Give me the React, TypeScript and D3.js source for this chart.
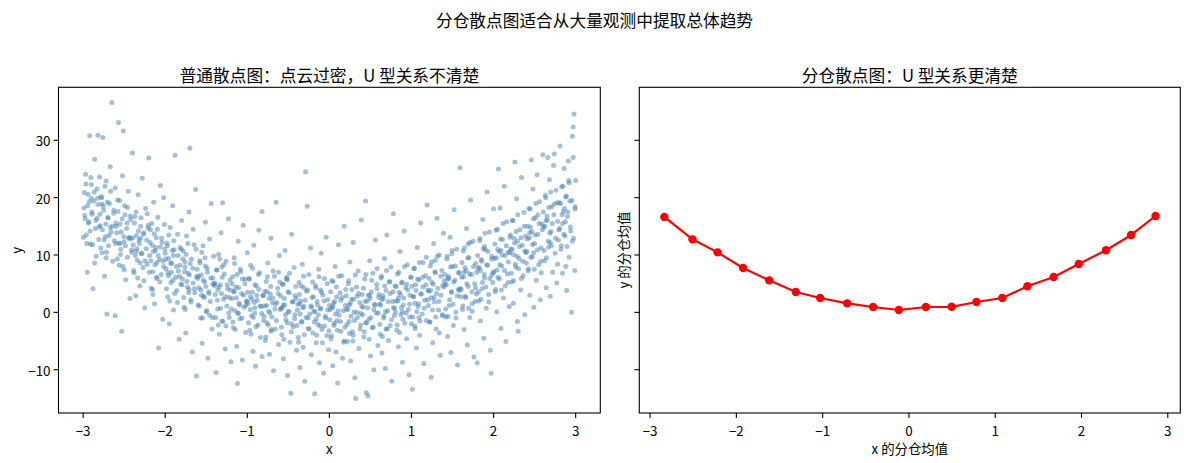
import React from "react";
import * as d3 from "d3";

const suptitle = "分仓散点图适合从大量观测中提取总体趋势";
const leftTitle = "普通散点图：点云过密，U 型关系不清楚";
const rightTitle = "分仓散点图：U 型关系更清楚";

const xTicks = [-3, -2, -1, 0, 1, 2, 3];
const yTicks = [-10, 0, 10, 20, 30];

// bin means (right panel)
const binX = [-2.835, -2.509, -2.218, -1.923, -1.619, -1.311, -1.029, -0.716, -0.416, -0.117,
  0.196, 0.495, 0.782, 1.082, 1.373, 1.677, 1.968, 2.284, 2.575, 2.858];
const binY = [16.63, 12.73, 10.46, 7.73, 5.58, 3.55, 2.5, 1.57, 0.93, 0.41,
  0.93, 0.97, 1.8, 2.5, 4.54, 6.16, 8.43, 10.82, 13.49, 16.8];

const cloudLeft: [number, number][] = [
  [-2.99,18.2],[-2.97,24.1],[-2.96,13.5],[-2.95,7.0],[-2.94,20.6],[-2.93,15.8],[-2.92,30.8],[-2.91,11.9],[-2.9,22.3],[-2.89,17.1],[-2.88,4.1],[-2.87,19.4],[-2.86,26.7],[-2.85,14.6],[-2.84,9.8],[-2.83,21.5],[-2.83,16.4],[-2.82,30.9],[-2.81,12.7],[-2.8,23.6],[-2.98,16.9],[-2.9,19.9],[-2.86,8.6],[-2.82,18.8],
  [-2.79,15.1],[-2.78,20.2],[-2.77,10.4],[-2.76,30.5],[-2.75,17.8],[-2.74,6.3],[-2.73,13.2],[-2.72,22.9],[-2.71,-0.3],[-2.7,16.5],[-2.69,11.6],[-2.68,19.0],[-2.67,25.4],[-2.66,14.0],[-2.65,36.6],[-2.64,8.9],[-2.63,17.3],[-2.62,12.5],[-2.61,-0.6],[-2.61,21.7],[-2.6,15.6],[-2.77,18.9],[-2.72,9.5],[-2.67,14.8],
  [-2.59,13.9],[-2.58,19.6],[-2.57,33.1],[-2.56,8.2],[-2.55,15.4],[-2.54,11.0],[-2.53,-3.3],[-2.52,23.8],[-2.51,31.6],[-2.5,12.3],[-2.49,17.0],[-2.48,5.7],[-2.47,14.6],[-2.46,9.6],[-2.45,21.1],[-2.44,13.1],[-2.43,2.4],[-2.42,16.2],[-2.41,10.5],[-2.4,27.8],[-2.55,12.0],[-2.5,7.4],[-2.46,18.3],[-2.42,12.8],
  [-2.39,11.8],[-2.38,6.9],[-2.37,16.7],[-2.36,2.9],[-2.35,13.4],[-2.34,9.1],[-2.33,20.5],[-2.32,12.6],[-2.31,4.6],[-2.3,15.0],[-2.29,10.2],[-2.28,23.4],[-2.27,7.8],[-2.26,13.9],[-2.25,0.8],[-2.24,18.1],[-2.23,11.1],[-2.22,8.4],[-2.21,14.7],[-2.2,26.9],[-2.35,10.6],[-2.3,12.9],[-2.26,5.5],[-2.22,17.2],
  [-2.19,9.9],[-2.18,14.4],[-2.17,4.2],[-2.16,11.7],[-2.15,7.1],[-2.14,19.2],[-2.13,1.5],[-2.12,10.8],[-2.11,13.0],[-2.1,5.9],[-2.09,16.6],[-2.08,-6.2],[-2.07,9.2],[-2.06,22.1],[-2.05,6.6],[-2.04,12.2],[-2.03,-1.2],[-2.02,8.0],[-2.01,15.3],[-2.0,10.3],[-2.15,3.1],[-2.1,8.7],[-2.06,11.4],[-2.02,20.0],
  [-1.99,7.6],[-1.98,12.1],[-1.97,2.7],[-1.96,9.4],[-1.95,-2.0],[-1.94,14.8],[-1.93,5.2],[-1.92,8.5],[-1.91,18.6],[-1.9,0.4],[-1.89,10.9],[-1.88,27.4],[-1.87,6.1],[-1.86,3.8],[-1.85,13.6],[-1.84,7.2],[-1.83,-4.7],[-1.82,11.3],[-1.81,4.9],[-1.8,16.0],[-1.96,6.4],[-1.9,9.9],[-1.85,1.7],[-1.82,8.2],
  [-1.79,5.8],[-1.78,10.7],[-1.77,0.9],[-1.76,7.9],[-1.75,-3.6],[-1.74,13.3],[-1.73,4.4],[-1.72,6.8],[-1.71,17.5],[-1.7,28.6],[-1.69,2.2],[-1.68,9.3],[-1.67,-6.9],[-1.66,5.1],[-1.65,11.8],[-1.64,3.4],[-1.63,21.4],[-1.62,-11.1],[-1.61,7.5],[-1.6,1.3],[-1.76,8.8],[-1.71,4.0],[-1.66,14.5],[-1.62,6.2],
  [-1.59,4.3],[-1.58,9.0],[-1.57,-1.0],[-1.56,6.5],[-1.55,-5.4],[-1.54,11.6],[-1.53,2.8],[-1.52,5.3],[-1.51,15.7],[-1.5,0.1],[-1.49,7.7],[-1.48,-8.0],[-1.47,3.6],[-1.46,12.8],[-1.45,1.9],[-1.44,19.0],[-1.43,-2.9],[-1.42,6.0],[-1.41,9.8],[-1.4,4.7],[-1.56,3.0],[-1.51,8.1],[-1.46,-0.5],[-1.42,4.9],
  [-1.39,3.1],[-1.38,-10.5],[-1.37,7.4],[-1.36,0.6],[-1.35,10.1],[-1.34,-3.8],[-1.33,4.8],[-1.32,13.9],[-1.31,-1.5],[-1.3,19.1],[-1.29,2.3],[-1.28,6.7],[-1.27,-6.4],[-1.26,8.9],[-1.25,1.1],[-1.24,4.1],[-1.23,16.3],[-1.22,-0.9],[-1.21,5.6],[-1.2,-8.6],[-1.36,3.9],[-1.31,7.9],[-1.26,-2.4],[-1.22,2.6],
  [-1.19,2.4],[-1.18,6.2],[-1.17,-2.7],[-1.16,9.5],[-1.15,0.3],[-1.14,4.4],[-1.13,-5.9],[-1.12,-12.4],[-1.11,12.4],[-1.1,1.6],[-1.09,-1.1],[-1.08,7.1],[-1.07,3.3],[-1.06,-8.3],[-1.05,15.2],[-1.04,0.9],[-1.03,5.0],[-1.02,-3.5],[-1.01,2.0],[-1.0,10.4],[-1.16,3.7],[-1.11,-0.2],[-1.06,5.8],[-1.02,1.2],
];

// -1 <= x < 1
const cloudMid: [number, number][] = [
  [-0.99,1.5],[-0.98,5.9],[-0.97,-3.1],[-0.96,8.2],[-0.95,-0.6],[-0.94,3.5],[-0.93,-6.8],[-0.92,11.7],[-0.91,0.8],[-0.9,-9.4],[-0.89,4.6],[-0.88,2.1],[-0.87,-2.2],[-0.86,14.3],[-0.85,6.9],[-0.84,-4.4],[-0.83,1.0],[-0.82,17.6],[-0.81,3.0],[-0.8,-1.4],[-0.96,2.7],[-0.91,-0.1],[-0.86,4.0],[-0.82,-7.7],
  [-0.79,1.1],[-0.78,-4.9],[-0.77,5.4],[-0.76,-1.8],[-0.75,8.6],[-0.74,0.2],[-0.73,-7.3],[-0.72,3.2],[-0.71,12.9],[-0.7,-0.8],[-0.69,2.5],[-0.68,-10.2],[-0.67,6.3],[-0.66,-2.9],[-0.65,19.2],[-0.64,1.7],[-0.63,4.2],[-0.62,-5.6],[-0.61,9.9],[-0.6,0.5],[-0.76,3.6],[-0.71,-3.3],[-0.66,1.4],[-0.62,7.0],
  [-0.59,0.7],[-0.58,-3.9],[-0.57,4.9],[-0.56,-8.1],[-0.55,2.4],[-0.54,10.8],[-0.53,-1.3],[-0.52,6.1],[-0.51,-11.0],[-0.5,0.0],[-0.49,3.4],[-0.48,-5.2],[-0.47,-14.1],[-0.46,13.6],[-0.45,1.8],[-0.44,-2.5],[-0.43,7.8],[-0.42,-0.4],[-0.41,4.5],[-0.4,-6.6],[-0.56,1.3],[-0.51,5.7],[-0.46,-2.0],[-0.42,2.9],
  [-0.39,0.4],[-0.38,-4.4],[-0.37,5.2],[-0.36,-9.6],[-0.35,2.0],[-0.34,-1.7],[-0.33,8.4],[-0.32,-6.1],[-0.31,1.0],[-0.3,-12.0],[-0.29,24.5],[-0.28,3.7],[-0.27,18.5],[-0.26,-2.8],[-0.25,6.6],[-0.24,-0.3],[-0.23,11.2],[-0.22,-7.4],[-0.21,2.6],[-0.2,-3.6],[-0.36,1.5],[-0.31,4.3],[-0.26,-1.0],[-0.22,0.9],
  [-0.19,0.1],[-0.18,-14.2],[-0.17,4.7],[-0.16,-5.3],[-0.15,1.9],[-0.14,-2.1],[-0.13,7.5],[-0.12,-8.8],[-0.11,0.6],[-0.1,10.3],[-0.09,-3.0],[-0.08,3.0],[-0.07,-10.6],[-0.06,5.9],[-0.05,-0.7],[-0.04,13.1],[-0.03,-4.1],[-0.02,2.2],[-0.01,-6.5],[0.0,1.2],[-0.16,-1.2],[-0.11,3.9],[-0.06,-2.4],[-0.02,0.4],
  [0.01,0.5],[0.02,-4.6],[0.03,5.5],[0.04,-9.3],[0.05,1.6],[0.06,-1.9],[0.07,8.0],[0.08,-6.9],[0.09,2.7],[0.1,-12.3],[0.11,11.8],[0.12,-0.5],[0.13,3.4],[0.14,-3.3],[0.15,6.4],[0.16,-8.0],[0.17,0.3],[0.18,15.0],[0.19,-2.6],[0.2,4.0],[0.04,1.0],[0.09,-1.4],[0.14,2.1],[0.18,-5.0],
  [0.21,0.6],[0.22,-5.1],[0.23,5.0],[0.24,-1.6],[0.25,8.8],[0.26,-8.5],[0.27,2.3],[0.28,-3.4],[0.29,12.2],[0.3,0.0],[0.31,-11.4],[0.32,-15.0],[0.33,4.4],[0.34,-0.9],[0.35,7.2],[0.36,-6.3],[0.37,1.7],[0.38,-2.2],[0.39,16.1],[0.4,3.1],[0.24,1.3],[0.29,-4.0],[0.34,2.8],[0.38,-0.2],
  [0.41,0.9],[0.42,-4.3],[0.43,5.8],[0.44,19.4],[0.45,-14.0],[0.46,2.0],[0.47,-14.6],[0.48,-1.2],[0.49,9.0],[0.5,-7.6],[0.51,3.6],[0.52,-2.7],[0.53,6.8],[0.54,-10.0],[0.55,1.4],[0.56,12.6],[0.57,-0.1],[0.58,4.1],[0.59,-5.8],[0.6,2.6],[0.44,-1.8],[0.49,3.0],[0.54,0.5],[0.58,7.6],
  [0.61,1.4],[0.62,-3.8],[0.63,6.0],[0.64,-7.1],[0.65,2.9],[0.66,-1.0],[0.67,9.4],[0.68,-9.8],[0.69,3.8],[0.7,13.5],[0.71,0.3],[0.72,-4.9],[0.73,5.3],[0.74,-2.3],[0.75,7.9],[0.76,-12.0],[0.77,1.9],[0.78,17.2],[0.79,-0.6],[0.8,4.6],[0.64,2.2],[0.69,-2.9],[0.74,3.3],[0.78,0.8],
  [0.81,2.0],[0.82,-3.1],[0.83,6.7],[0.84,-6.0],[0.85,3.5],[0.86,10.6],[0.87,-0.4],[0.88,5.1],[0.89,-8.7],[0.9,1.3],[0.91,14.2],[0.92,-1.9],[0.93,4.3],[0.94,-4.6],[0.95,8.3],[0.96,0.5],[0.97,-10.9],[0.98,3.0],[0.99,6.1],[1.0,-2.0],[0.84,2.5],[0.89,0.1],[0.94,4.9],[0.98,-0.8],
];

// x >= 1
const cloudRight: [number, number][] = [
  [1.01,-13.4],[1.02,2.8],[1.03,7.6],[1.04,-2.4],[1.05,4.8],[1.06,-6.2],[1.07,11.3],[1.08,1.0],[1.09,5.7],[1.1,-4.0],[1.11,15.6],[1.12,3.2],[1.13,-0.3],[1.14,8.7],[1.15,-8.9],[1.16,2.1],[1.17,6.4],[1.18,-1.4],[1.19,18.7],[1.2,3.9],[1.04,1.6],[1.09,-0.9],[1.14,4.4],[1.18,9.6],
  [1.21,3.7],[1.22,-1.7],[1.23,8.1],[1.24,-11.3],[1.25,5.2],[1.26,-5.3],[1.27,12.0],[1.28,1.8],[1.29,6.9],[1.3,-2.9],[1.31,16.4],[1.32,4.2],[1.33,0.4],[1.34,10.0],[1.35,-7.5],[1.36,3.0],[1.37,7.3],[1.38,-0.6],[1.39,13.8],[1.4,5.5],[1.24,2.5],[1.29,9.1],[1.34,-3.6],[1.38,4.7],
  [1.41,4.9],[1.42,-0.8],[1.43,9.3],[1.44,-4.2],[1.45,6.3],[1.46,1.2],[1.47,13.1],[1.48,-7.0],[1.49,3.5],[1.5,8.0],[1.51,-2.3],[1.52,17.9],[1.53,5.6],[1.54,0.0],[1.55,11.0],[1.56,-9.2],[1.57,4.0],[1.58,7.0],[1.59,25.2],[1.6,2.7],[1.44,5.8],[1.49,10.2],[1.54,-1.0],[1.58,3.8],
  [1.61,6.1],[1.62,0.5],[1.63,10.7],[1.64,-3.0],[1.65,7.8],[1.66,2.6],[1.67,14.6],[1.68,-5.7],[1.69,4.5],[1.7,9.5],[1.71,-0.9],[1.72,19.6],[1.73,6.6],[1.74,1.5],[1.75,12.4],[1.76,-7.8],[1.77,5.0],[1.78,8.5],[1.79,3.2],[1.8,-8.8],[1.64,7.0],[1.69,11.9],[1.74,0.2],[1.78,4.3],
  [1.81,7.7],[1.82,2.0],[1.83,12.5],[1.84,-1.5],[1.85,9.2],[1.86,4.1],[1.87,16.2],[1.88,-4.5],[1.89,6.0],[1.9,10.9],[1.91,0.7],[1.92,21.0],[1.93,8.2],[1.94,3.1],[1.95,14.0],[1.96,-6.6],[1.97,-10.6],[1.98,9.8],[1.99,5.2],[2.0,18.0],[1.84,7.3],[1.89,11.5],[1.94,1.8],[1.98,6.5],
  [2.01,9.4],[2.02,3.6],[2.03,14.3],[2.04,0.1],[2.05,11.0],[2.06,25.0],[2.07,5.8],[2.08,18.2],[2.09,-2.8],[2.1,8.1],[2.11,12.7],[2.12,2.5],[2.13,22.0],[2.14,9.9],[2.15,-5.1],[2.16,15.8],[2.17,6.7],[2.18,10.5],[2.19,1.0],[2.2,13.1],[2.04,7.4],[2.09,10.8],[2.14,4.6],[2.18,8.8],
  [2.21,11.0],[2.22,5.3],[2.23,16.0],[2.24,1.6],[2.25,12.9],[2.26,26.2],[2.27,7.9],[2.28,19.8],[2.29,-1.6],[2.3,-3.3],[2.31,9.4],[2.32,14.4],[2.33,3.9],[2.34,23.5],[2.35,11.7],[2.36,6.4],[2.37,17.4],[2.38,-0.4],[2.39,13.3],[2.4,8.6],[2.24,10.1],[2.29,12.4],[2.34,5.9],[2.38,10.7],
  [2.41,12.8],[2.42,7.2],[2.43,18.1],[2.44,3.0],[2.45,14.9],[2.46,26.6],[2.47,9.7],[2.48,21.5],[2.49,0.9],[2.5,12.0],[2.51,16.5],[2.52,5.6],[2.53,24.0],[2.54,13.6],[2.55,8.3],[2.56,19.3],[2.57,2.2],[2.58,11.2],[2.59,15.4],[2.6,27.5],[2.44,13.9],[2.49,10.4],[2.54,17.0],[2.58,6.9],
  [2.61,14.9],[2.62,9.0],[2.63,20.4],[2.64,4.3],[2.65,16.8],[2.66,27.0],[2.67,11.4],[2.68,23.1],[2.69,2.8],[2.7,14.1],[2.71,18.4],[2.72,7.0],[2.73,25.6],[2.74,27.6],[2.75,10.3],[2.76,21.3],[2.77,5.1],[2.78,15.9],[2.79,12.6],[2.8,19.1],[2.64,16.0],[2.69,12.2],[2.74,18.9],[2.78,8.4],
  [2.81,29.0],[2.82,11.0],[2.83,21.9],[2.84,6.8],[2.85,17.6],[2.86,25.1],[2.87,13.3],[2.88,20.1],[2.89,3.8],[2.9,16.7],[2.91,26.4],[2.92,9.6],[2.93,19.4],[2.94,14.2],[2.95,0.0],[2.96,30.7],[2.97,32.3],[2.98,34.6],[2.99,18.0],[3.0,23.0],[2.84,15.5],[2.88,8.0],[2.92,22.6],[2.96,12.4],[2.99,7.3],[2.97,27.0],
];

// the dense core of the cloud, x < 0
const coreLeft: [number, number][] = [
  [-2.995,13.1],[-2.985,20.9],[-2.975,16.3],[-2.965,22.4],[-2.955,12.0],[-2.945,18.6],[-2.935,15.6],[-2.925,19.3],[-2.915,14.2],[-2.905,23.5],[-2.895,17.5],[-2.885,11.8],[-2.865,21.0],[-2.845,16.0],[-2.825,19.9],[-2.805,14.9],
  [-2.795,17.1],[-2.785,11.2],[-2.775,20.0],[-2.765,14.4],[-2.755,18.5],[-2.745,12.6],[-2.735,22.0],[-2.725,15.4],[-2.715,10.5],[-2.705,19.2],[-2.695,16.5],[-2.685,13.4],[-2.665,21.1],[-2.645,15.0],[-2.625,17.8],[-2.605,12.0],
  [-2.595,15.0],[-2.585,9.3],[-2.575,17.6],[-2.565,12.1],[-2.555,19.5],[-2.545,10.1],[-2.535,14.0],[-2.525,16.3],[-2.515,8.0],[-2.505,13.2],[-2.495,18.6],[-2.485,11.6],[-2.465,15.6],[-2.445,12.9],[-2.425,16.8],[-2.405,10.9],
  [-2.395,13.0],[-2.385,7.3],[-2.375,15.6],[-2.365,9.9],[-2.355,17.5],[-2.345,11.1],[-2.335,6.0],[-2.325,14.2],[-2.315,12.0],[-2.305,8.6],[-2.295,16.5],[-2.285,10.3],[-2.265,13.6],[-2.245,9.0],[-2.225,12.6],[-2.205,15.2],
  [-2.195,7.0],[-2.185,12.2],[-2.175,9.0],[-2.165,15.5],[-2.155,4.0],[-2.145,10.6],[-2.135,13.7],[-2.125,8.3],[-2.115,11.3],[-2.105,6.1],[-2.095,14.5],[-2.085,9.9],[-2.065,5.3],[-2.045,12.9],[-2.025,8.9],[-2.005,11.0],
  [-1.995,9.3],[-1.985,4.1],[-1.975,11.6],[-1.965,6.9],[-1.955,13.5],[-1.945,2.0],[-1.935,8.6],[-1.925,7.0],[-1.915,10.8],[-1.905,5.6],[-1.895,12.5],[-1.885,3.3],[-1.865,8.0],[-1.845,9.9],[-1.825,6.3],[-1.805,11.0],
  [-1.795,4.8],[-1.785,9.3],[-1.775,2.6],[-1.765,7.1],[-1.755,0.5],[-1.745,10.1],[-1.735,5.4],[-1.725,12.0],[-1.715,3.4],[-1.705,6.5],[-1.695,8.5],[-1.685,1.8],[-1.665,7.7],[-1.645,4.1],[-1.625,11.0],[-1.605,5.9],
  [-1.595,6.3],[-1.585,1.1],[-1.575,8.6],[-1.565,3.9],[-1.555,10.5],[-1.545,-1.0],[-1.535,5.6],[-1.525,2.6],[-1.515,9.5],[-1.505,4.5],[-1.495,0.3],[-1.485,7.0],[-1.465,3.3],[-1.445,6.0],[-1.425,-0.9],[-1.405,5.0],
  [-1.395,5.1],[-1.385,-0.9],[-1.375,7.4],[-1.365,2.1],[-1.355,-2.2],[-1.345,4.4],[-1.335,9.3],[-1.325,0.7],[-1.315,3.3],[-1.305,6.1],[-1.295,-1.6],[-1.285,8.3],[-1.265,2.7],[-1.245,4.8],[-1.225,-0.1],[-1.205,3.9],
  [-1.195,0.6],[-1.185,5.0],[-1.175,-1.7],[-1.165,3.6],[-1.155,8.5],[-1.145,-3.0],[-1.135,2.5],[-1.125,6.6],[-1.115,-0.1],[-1.105,4.3],[-1.095,1.3],[-1.085,7.5],[-1.065,-1.0],[-1.045,3.0],[-1.025,5.8],[-1.005,1.9],
  [-0.995,3.5],[-0.985,-1.8],[-0.975,5.8],[-0.965,0.5],[-0.955,-3.8],[-0.945,2.3],[-0.935,7.7],[-0.925,-0.9],[-0.915,1.7],[-0.905,4.8],[-0.895,-2.5],[-0.885,3.0],[-0.865,6.6],[-0.845,1.1],[-0.825,-0.2],[-0.805,2.9],
  [-0.795,-0.7],[-0.785,3.7],[-0.775,-4.3],[-0.765,1.2],[-0.755,6.2],[-0.745,-2.2],[-0.735,2.4],[-0.725,-0.1],[-0.715,4.5],[-0.705,-3.0],[-0.695,1.7],[-0.685,7.2],[-0.665,0.6],[-0.645,-1.4],[-0.625,3.3],[-0.605,5.3],
  [-0.595,2.9],[-0.585,-2.6],[-0.575,0.8],[-0.565,4.9],[-0.555,-4.7],[-0.545,1.3],[-0.535,-0.4],[-0.525,5.8],[-0.515,-1.8],[-0.505,3.6],[-0.495,0.2],[-0.485,6.8],[-0.465,-3.4],[-0.445,1.9],[-0.425,-1.1],[-0.405,2.4],
  [-0.395,-2.3],[-0.385,1.4],[-0.375,-5.2],[-0.365,3.1],[-0.355,-0.3],[-0.345,4.6],[-0.335,-1.6],[-0.325,0.8],[-0.315,6.3],[-0.305,-3.9],[-0.295,2.1],[-0.285,-0.9],[-0.265,3.9],[-0.245,-2.9],[-0.225,1.1],[-0.205,5.3],
  [-0.195,2.7],[-0.185,-1.7],[-0.175,0.2],[-0.165,4.3],[-0.155,-4.0],[-0.145,1.3],[-0.135,-0.4],[-0.125,6.2],[-0.115,-2.4],[-0.105,0.7],[-0.095,3.5],[-0.085,-5.3],[-0.065,2.0],[-0.045,-1.0],[-0.025,5.0],[-0.005,-3.2],
];

// the dense core of the cloud, x >= 0
const coreRight: [number, number][] = [
  [0.005,-1.3],[0.015,3.6],[0.025,-4.1],[0.035,0.8],[0.045,5.4],[0.055,-2.3],[0.065,1.9],[0.075,-0.3],[0.085,4.4],[0.095,-3.1],[0.105,0.3],[0.115,6.3],[0.135,-1.6],[0.155,2.6],[0.175,-5.2],[0.195,1.2],
  [0.205,2.9],[0.215,-2.1],[0.225,0.5],[0.235,5.5],[0.245,-3.7],[0.255,1.6],[0.265,-0.7],[0.275,4.0],[0.285,-5.0],[0.295,2.3],[0.305,-1.4],[0.315,6.5],[0.335,0.0],[0.355,3.3],[0.375,-2.9],[0.395,1.0],
  [0.405,-0.4],[0.415,4.2],[0.425,-3.4],[0.435,1.9],[0.445,6.6],[0.455,-1.8],[0.465,0.8],[0.475,3.0],[0.485,-4.7],[0.495,2.4],[0.505,-0.9],[0.515,5.6],[0.535,-2.6],[0.555,1.3],[0.575,4.9],[0.595,-0.1],
  [0.605,3.1],[0.615,-2.1],[0.625,1.3],[0.635,6.3],[0.645,-4.2],[0.655,2.4],[0.665,-0.6],[0.675,4.6],[0.685,0.1],[0.695,7.3],[0.705,-2.9],[0.715,1.9],[0.735,5.4],[0.755,-1.3],[0.775,3.6],[0.795,0.7],
  [0.805,0.0],[0.815,4.5],[0.825,-2.2],[0.835,2.0],[0.845,7.0],[0.855,-3.5],[0.865,3.1],[0.875,0.8],[0.885,5.3],[0.895,-1.2],[0.905,2.5],[0.915,8.0],[0.935,-0.1],[0.955,3.9],[0.975,1.4],[0.995,6.1],
  [1.005,4.5],[1.015,-0.8],[1.025,2.7],[1.035,7.7],[1.045,-2.8],[1.055,3.8],[1.065,0.1],[1.075,5.8],[1.085,1.5],[1.095,8.7],[1.105,-1.5],[1.115,3.2],[1.135,6.1],[1.155,0.7],[1.175,4.8],[1.195,2.2],
  [1.205,1.2],[1.215,5.9],[1.225,-1.7],[1.235,3.8],[1.245,8.8],[1.255,0.4],[1.265,4.9],[1.275,2.6],[1.285,7.1],[1.295,-0.8],[1.305,3.3],[1.315,9.8],[1.335,1.9],[1.355,6.3],[1.375,-0.4],[1.395,4.4],
  [1.405,6.6],[1.415,0.6],[1.425,4.8],[1.435,9.8],[1.445,-0.7],[1.455,5.9],[1.465,2.2],[1.475,7.9],[1.485,3.6],[1.495,10.8],[1.505,1.4],[1.515,5.3],[1.535,8.1],[1.555,2.9],[1.575,6.8],[1.595,4.2],
  [1.605,4.0],[1.615,8.7],[1.625,1.1],[1.635,6.2],[1.645,11.2],[1.655,2.8],[1.665,7.3],[1.675,5.0],[1.685,9.5],[1.695,0.7],[1.705,6.7],[1.715,12.2],[1.735,3.6],[1.755,8.0],[1.775,1.9],[1.795,7.0],
  [1.805,9.9],[1.815,3.6],[1.825,7.8],[1.835,12.9],[1.845,2.3],[1.855,8.9],[1.865,5.2],[1.875,11.1],[1.885,6.6],[1.895,13.8],[1.905,4.4],[1.915,8.3],[1.935,10.6],[1.955,5.9],[1.975,9.3],[1.995,7.0],
  [2.005,7.0],[2.015,11.9],[2.025,4.0],[2.035,9.5],[2.045,14.5],[2.055,6.1],[2.065,10.6],[2.075,8.3],[2.085,12.8],[2.095,3.9],[2.105,10.0],[2.115,15.5],[2.135,7.3],[2.155,11.6],[2.175,5.2],[2.195,10.4],
  [2.205,13.5],[2.215,6.8],[2.225,11.0],[2.235,16.0],[2.245,5.5],[2.255,12.1],[2.265,8.4],[2.275,14.1],[2.285,9.8],[2.295,17.0],[2.305,7.6],[2.315,11.5],[2.335,13.0],[2.355,8.9],[2.375,15.0],[2.395,10.4],
  [2.405,10.6],[2.415,15.0],[2.425,7.6],[2.435,13.0],[2.445,18.0],[2.455,9.6],[2.465,14.1],[2.475,11.8],[2.485,16.3],[2.495,7.5],[2.505,13.5],[2.515,19.0],[2.535,10.9],[2.555,15.5],[2.575,8.9],[2.595,14.4],
  [2.605,17.5],[2.615,10.8],[2.625,15.0],[2.635,20.0],[2.645,9.5],[2.655,16.1],[2.665,12.4],[2.675,18.3],[2.685,13.8],[2.695,21.0],[2.705,11.6],[2.715,15.5],[2.735,17.0],[2.755,12.9],[2.775,19.1],[2.795,14.4],
  [2.805,14.6],[2.815,19.0],[2.825,11.6],[2.835,17.0],[2.845,22.0],[2.855,13.6],[2.865,18.1],[2.875,15.8],[2.885,20.3],[2.895,11.5],[2.905,17.5],[2.915,23.0],[2.935,14.9],[2.955,19.5],[2.975,12.9],[2.995,18.4],
];

const font = "'Noto Sans CJK SC', 'Noto Sans', sans-serif";
const fmt = d3.format("d");

const W = 1189;
const H = 463;
const top = 87.3;
const bottom = 413;
const leftBox = { x0: 58.5, x1: 600.3 };
const rightBox = { x0: 639.3, x1: 1180.3 };

const Axes = ({ box, x, y, showYLabels, xlabel, ylabel, title, children }: any) => {
  const cx = (box.x0 + box.x1) / 2;
  return (
    <g>
      {children}
      <rect x={box.x0} y={top} width={box.x1 - box.x0} height={bottom - top}
        fill="none" stroke="#000" strokeWidth={1.1} />
      {xTicks.map((t) => (
        <g key={"x" + t} transform={`translate(${x(t)},${bottom})`}>
          <line y2={4.9} stroke="#000" strokeWidth={1.1} />
          <text y={16.5} textAnchor="middle" dominantBaseline="central" fontSize={13.4}>{fmt(t)}</text>
        </g>
      ))}
      {yTicks.map((t) => (
        <g key={"y" + t} transform={`translate(${box.x0},${y(t)})`}>
          <line x2={-4.9} stroke="#000" strokeWidth={1.1} />
          {showYLabels && (
            <text x={-8} textAnchor="end" dominantBaseline="central" fontSize={13.4}>{fmt(t)}</text>
          )}
        </g>
      ))}
      <text x={cx} y={447.5} textAnchor="middle" dominantBaseline="central" fontSize={13.4}>{xlabel}</text>
      <text transform={`translate(${showYLabels ? 16 : 622.5},${(top + bottom) / 2}) rotate(-90)`}
        textAnchor="middle" dominantBaseline="central" fontSize={13.4}>{ylabel}</text>
      <text x={cx} y={75} textAnchor="middle" dominantBaseline="central" fontSize={16.7}>{title}</text>
    </g>
  );
};

export default function App() {
  const y = d3.scaleLinear().domain([-17.55, 39.24]).range([bottom, top]);
  const xL = d3.scaleLinear().domain([-3.3, 3.3]).range([leftBox.x0, leftBox.x1]);
  const xR = d3.scaleLinear().domain([-3.125, 3.145]).range([rightBox.x0, rightBox.x1]);
  const cloud = [...cloudLeft, ...cloudMid, ...cloudRight, ...coreLeft, ...coreRight];
  const bins = binX.map((bx, i) => [bx, binY[i]] as [number, number]);
  const line = d3.line<[number, number]>().x((d) => xR(d[0])).y((d) => y(d[1]));

  return (
    <svg width={W} height={H} style={{ position: "absolute", left: 0, top: 0, background: "#fff" }}
      fontFamily={font}>
      <rect width={W} height={H} fill="#fff" />
      <text x={W / 2} y={19.5} textAnchor="middle" dominantBaseline="central" fontSize={16.7}>{suptitle}</text>
      <Axes box={leftBox} x={xL} y={y} showYLabels xlabel="x" ylabel="y" title={leftTitle}>
        <g fill="steelblue" fillOpacity={0.5}>
          {cloud.map((d, i) => (
            <circle key={i} cx={xL(d[0])} cy={y(d[1])} r={2.5} />
          ))}
        </g>
      </Axes>
      <Axes box={rightBox} x={xR} y={y} showYLabels={false} xlabel="x 的分仓均值" ylabel="y 的分仓均值" title={rightTitle}>
        <path d={line(bins) as string} fill="none" stroke="red" strokeWidth={2.2} />
        {bins.map((d, i) => (
          <circle key={i} cx={xR(d[0])} cy={y(d[1])} r={4.2} fill="red" />
        ))}
      </Axes>
    </svg>
  );
}
